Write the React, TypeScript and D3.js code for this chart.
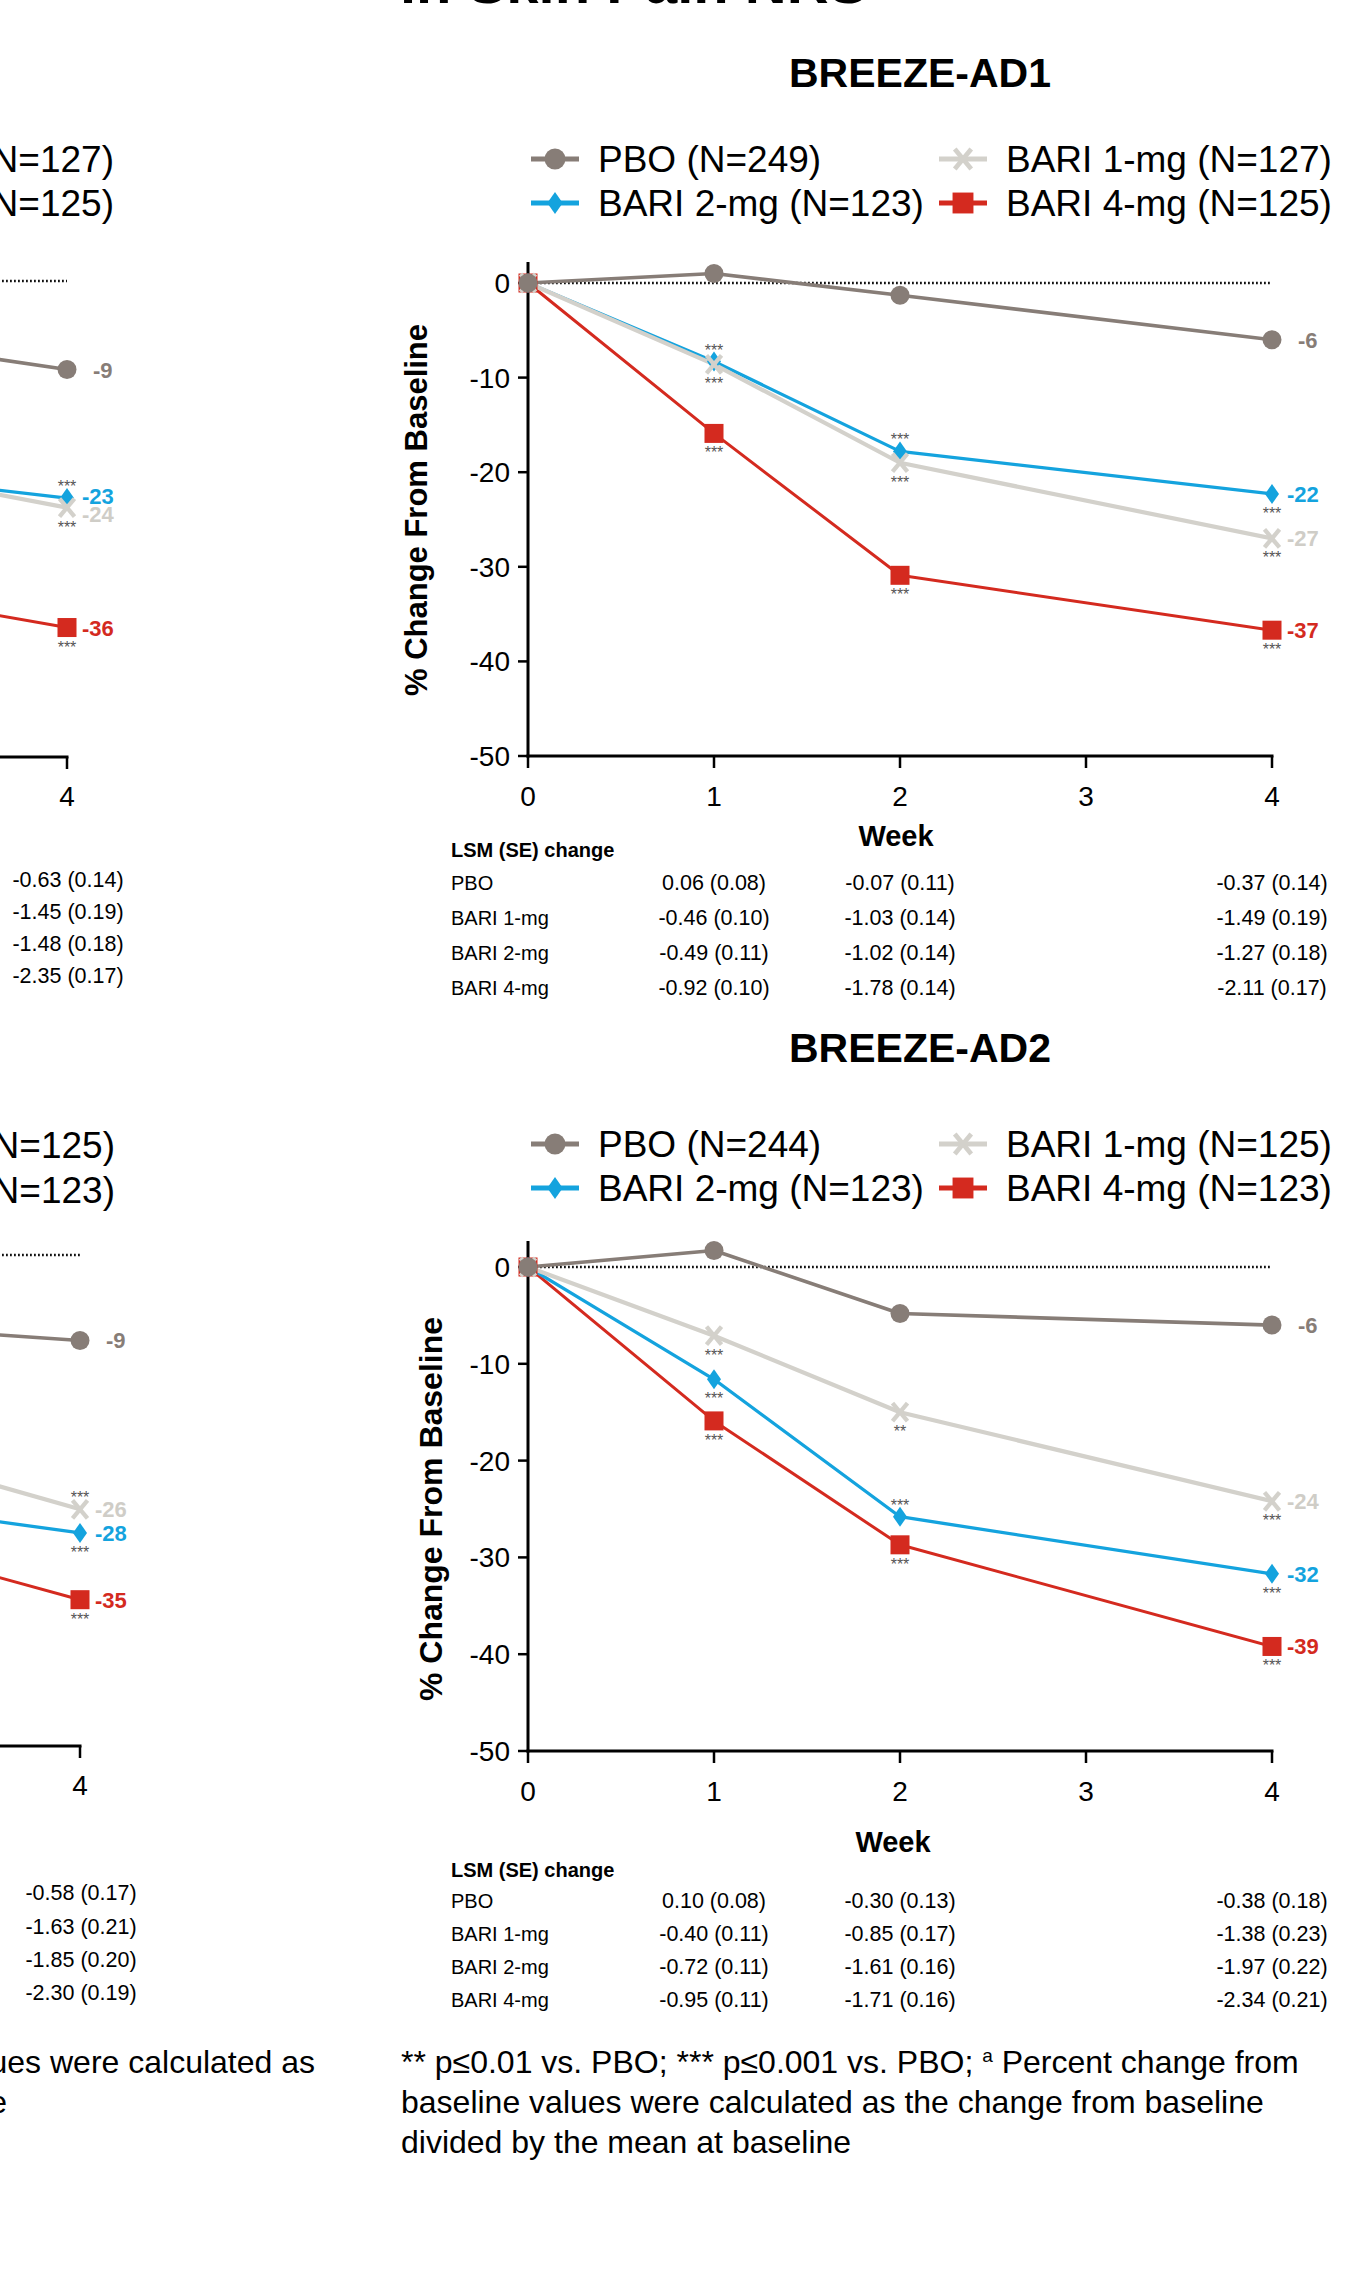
import React from "react";
import * as d3 from "d3";

// ---------- data ----------
const WEEKS = [0, 1, 2, 4];
const X_TICKS = [0, 1, 2, 3, 4];
const Y_TICKS = [0, -10, -20, -30, -40, -50];
const GROUPS = ["PBO", "BARI 1-mg", "BARI 2-mg", "BARI 4-mg"];

// BREEZE-AD1 (% change from baseline)
const AD1_N = [249, 127, 123, 125];
const AD1_PBO = [0, 1.0, -1.3, -6.0];
const AD1_BARI1 = [0, -8.6, -19.0, -27.0];
const AD1_BARI2 = [0, -8.3, -17.8, -22.3];
const AD1_BARI4 = [0, -15.9, -30.9, -36.7];
const AD1_END_LABELS = ["-6", "-27", "-22", "-37"];
const AD1_SIG_BARI1 = ["", "***", "***", "***"];
const AD1_SIG_BARI2 = ["", "***", "***", "***"];
const AD1_SIG_BARI4 = ["", "***", "***", "***"];
const AD1_TABLE_PBO = ["0.06 (0.08)", "-0.07 (0.11)", "-0.37 (0.14)"];
const AD1_TABLE_BARI1 = ["-0.46 (0.10)", "-1.03 (0.14)", "-1.49 (0.19)"];
const AD1_TABLE_BARI2 = ["-0.49 (0.11)", "-1.02 (0.14)", "-1.27 (0.18)"];
const AD1_TABLE_BARI4 = ["-0.92 (0.10)", "-1.78 (0.14)", "-2.11 (0.17)"];

// BREEZE-AD2
const AD2_N = [244, 125, 123, 123];
const AD2_PBO = [0, 1.7, -4.8, -6.0];
const AD2_BARI1 = [0, -7.1, -15.0, -24.2];
const AD2_BARI2 = [0, -11.6, -25.8, -31.7];
const AD2_BARI4 = [0, -15.9, -28.7, -39.2];
const AD2_END_LABELS = ["-6", "-24", "-32", "-39"];
const AD2_SIG_BARI1 = ["", "***", "**", "***"];
const AD2_SIG_BARI2 = ["", "***", "***", "***"];
const AD2_SIG_BARI4 = ["", "***", "***", "***"];
const AD2_TABLE_PBO = ["0.10 (0.08)", "-0.30 (0.13)", "-0.38 (0.18)"];
const AD2_TABLE_BARI1 = ["-0.40 (0.11)", "-0.85 (0.17)", "-1.38 (0.23)"];
const AD2_TABLE_BARI2 = ["-0.72 (0.11)", "-1.61 (0.16)", "-1.97 (0.22)"];
const AD2_TABLE_BARI4 = ["-0.95 (0.11)", "-1.71 (0.16)", "-2.34 (0.21)"];
const TABLE_WEEKS = [1, 2, 4];

// Left-hand panels (only their right edge is visible)
const LEFT_WEEKS = [2, 4];
const TL_N = [0, 127, 0, 125];
const TL_PBO = [-3.5, -9.3];
const TL_BARI1 = [-16.4, -23.8];
const TL_BARI2 = [-18.3, -22.8];
const TL_BARI4 = [-29.5, -36.4];
const TL_END_LABELS = ["-9", "-24", "-23", "-36"];
const TL_TABLE_WK4 = ["-0.63 (0.14)", "-1.45 (0.19)", "-1.48 (0.18)", "-2.35 (0.17)"];

const BL_N = [0, 125, 0, 123];
const BL_PBO = [-6.1, -8.7];
const BL_BARI1 = [-15.1, -25.9];
const BL_BARI2 = [-23.1, -28.3];
const BL_BARI4 = [-24.7, -35.1];
const BL_END_LABELS = ["-9", "-26", "-28", "-35"];
const BL_TABLE_WK4 = ["-0.58 (0.17)", "-1.63 (0.21)", "-1.85 (0.20)", "-2.30 (0.19)"];

// ---------- style ----------
const FONT = "'Liberation Sans', Arial, Helvetica, sans-serif";
const COLORS = ["#877d77", "#d3d1cb", "#14a3de", "#d42a1f"];
const SHAPES = ["circle", "x", "diamond", "square"];
const WIDTHS = [3.6, 4.2, 3.3, 3];
const LABEL_COLORS = ["#877d77", "#cfcdc7", "#14a3de", "#d42a1f"];
const STAR_COLOR = "#555555";

function Marker({ kind, x, y, color, s = 1 }: any) {
  if (kind === "circle") return <circle cx={x} cy={y} r={9.5 * s} fill={color} />;
  if (kind === "square")
    return <rect x={x - 9.5 * s} y={y - 9.5 * s} width={19 * s} height={19 * s} fill={color} />;
  if (kind === "diamond")
    return (
      <path
        d={`M${x},${y - 10 * s}L${x + 7 * s},${y}L${x},${y + 10 * s}L${x - 7 * s},${y}Z`}
        fill={color}
      />
    );
  return (
    <g stroke={color} strokeWidth={4.3 * s}>
      <line x1={x - 7.5 * s} y1={y - 9 * s} x2={x + 7.5 * s} y2={y + 9 * s} />
      <line x1={x + 7.5 * s} y1={y - 9 * s} x2={x - 7.5 * s} y2={y + 9 * s} />
    </g>
  );
}

type Ser = { idx: number; values: number[]; sig?: string[]; sigPos?: string[]; label: string; dy?: number };

function Plot({ cfg, weeks, series, axes }: any) {
  const x = d3.scaleLinear().domain([0, 4]).range([cfg.x0, cfg.x4]);
  const y = d3.scaleLinear().domain([0, -50]).range([cfg.y0, cfg.y50]);
  const drawOrder = [3, 2, 1, 0].map((i) => series.find((s: Ser) => s.idx === i)).filter(Boolean) as Ser[];
  return (
    <g fontFamily={FONT}>
      {/* zero reference */}
      <line
        x1={axes ? cfg.x0 : -10}
        x2={x(4)}
        y1={y(0)}
        y2={y(0)}
        stroke="#111"
        strokeWidth={2.6}
        strokeDasharray="1.8,2.2"
      />
      {/* axes */}
      {axes && (
        <g>
          <line x1={cfg.x0} x2={cfg.x0} y1={cfg.axisTop} y2={y(-50) + 1.5} stroke="#000" strokeWidth={3} />
          {Y_TICKS.map((t) => (
            <g key={t}>
              <line x1={cfg.x0 - 10} x2={cfg.x0} y1={y(t)} y2={y(t)} stroke="#000" strokeWidth={2.5} />
              <text x={cfg.x0 - 18} y={y(t) + 10} textAnchor="end" fontSize={28} fill="#000">
                {t}
              </text>
            </g>
          ))}
          <text
            transform={`translate(${cfg.ylabelX},${cfg.ylabelY}) rotate(-90)`}
            textAnchor="middle"
            fontSize={cfg.ylabelSize}
            fontWeight="bold"
            fill="#000"
          >
            % Change From Baseline
          </text>
          <text x={cfg.weekX} y={cfg.weekY} textAnchor="middle" fontSize={29} fontWeight="bold" fill="#000">
            Week
          </text>
        </g>
      )}
      <line x1={axes ? cfg.x0 - 1.5 : -10} x2={x(4) + 1.5} y1={y(-50)} y2={y(-50)} stroke="#000" strokeWidth={3} />
      {X_TICKS.map((t) => (
        <g key={t}>
          <line x1={x(t)} x2={x(t)} y1={y(-50)} y2={y(-50) + 12} stroke="#000" strokeWidth={2.5} />
          <text x={x(t)} y={cfg.xTickY} textAnchor="middle" fontSize={28} fill="#000">
            {t}
          </text>
        </g>
      ))}
      {/* lines */}
      {drawOrder.map((s) => {
        const line = d3
          .line<number>()
          .x((_, i) => x(weeks[i]))
          .y((d) => y(d));
        return (
          <path
            key={"l" + s.idx}
            d={line(s.values) || ""}
            fill="none"
            stroke={COLORS[s.idx]}
            strokeWidth={WIDTHS[s.idx]}
            strokeLinejoin="round"
          />
        );
      })}
      {/* markers */}
      {drawOrder.map((s) =>
        s.values.map((v, i) => (
          <Marker key={"m" + s.idx + "-" + i} kind={SHAPES[s.idx]} x={x(weeks[i])} y={y(v)} color={COLORS[s.idx]} />
        ))
      )}
      {/* significance stars */}
      {drawOrder.map((s) =>
        (s.sig || []).map((st, i) =>
          st ? (
            <text
              key={"s" + s.idx + "-" + i}
              x={x(weeks[i])}
              y={y(s.values[i]) + (s.sigPos && s.sigPos[i] === "a" ? -15 : 16) + 9}
              textAnchor="middle"
              fontSize={16}
              fill={STAR_COLOR}
            >
              {st}
            </text>
          ) : null
        )
      )}
      {/* end labels */}
      {drawOrder.map((s) => (
        <text
          key={"e" + s.idx}
          x={x(4) + (s.idx === 0 ? 26 : 15)}
          y={y(s.values[s.values.length - 1]) + 8 + (s.dy || 0)}
          fontSize={22}
          fontWeight="bold"
          fill={LABEL_COLORS[s.idx]}
        >
          {s.label}
        </text>
      ))}
    </g>
  );
}

function Legend({ n, rows, anchorEnd }: any) {
  const items = [
    { i: 0, mx: 555, tx: 598, row: 0 },
    { i: 1, mx: 963, tx: 1006, row: 0 },
    { i: 2, mx: 555, tx: 598, row: 1 },
    { i: 3, mx: 963, tx: 1006, row: 1 },
  ];
  if (anchorEnd !== undefined) {
    return (
      <g fontFamily={FONT} fontSize={37} fill="#000">
        <text x={anchorEnd} y={rows[0]} textAnchor="end">{`${GROUPS[1]} (N=${n[1]})`}</text>
        <text x={anchorEnd} y={rows[1]} textAnchor="end">{`${GROUPS[3]} (N=${n[3]})`}</text>
      </g>
    );
  }
  return (
    <g fontFamily={FONT}>
      {items.map((it) => {
        const yy = rows[it.row] - 13;
        return (
          <g key={it.i}>
            <line x1={it.mx - 24} x2={it.mx + 24} y1={yy} y2={yy} stroke={COLORS[it.i]} strokeWidth={5} />
            <Marker kind={SHAPES[it.i]} x={it.mx} y={yy} color={COLORS[it.i]} s={1.1} />
            <text x={it.tx} y={rows[it.row]} fontSize={37} fill="#000">{`${GROUPS[it.i]} (N=${n[it.i]})`}</text>
          </g>
        );
      })}
    </g>
  );
}

function Table({ rows, lsmY, values, weeksX }: any) {
  return (
    <g fontFamily={FONT} fill="#000">
      <text x={451} y={lsmY} fontSize={20} fontWeight="bold">
        LSM (SE) change
      </text>
      {GROUPS.map((g, r) => (
        <g key={g}>
          <text x={451} y={rows[r]} fontSize={20}>
            {g}
          </text>
          {values[r].map((v: string, c: number) => (
            <text key={c} x={weeksX(TABLE_WEEKS[c])} y={rows[r]} fontSize={21.5} textAnchor="middle">
              {v}
            </text>
          ))}
        </g>
      ))}
    </g>
  );
}

export default function App() {
  const ad1 = {
    x0: 528, x4: 1272, y0: 283, y50: 756, axisTop: 262, xTickY: 806, weekX: 896, weekY: 846,
    ylabelX: 427, ylabelY: 510, ylabelSize: 31,
  };
  const ad2 = {
    x0: 528, x4: 1272, y0: 1267, y50: 1751, axisTop: 1241, xTickY: 1801, weekX: 893, weekY: 1852,
    ylabelX: 442, ylabelY: 1509, ylabelSize: 32,
  };
  const tl = { x0: 67 - 744, x4: 67, y0: 281, y50: 757, xTickY: 806 };
  const bl = { x0: 80 - 744, x4: 80, y0: 1255, y50: 1746, xTickY: 1795 };
  const xr = d3.scaleLinear().domain([0, 4]).range([528, 1272]);

  const ad1Series: Ser[] = [
    { idx: 0, values: AD1_PBO, label: AD1_END_LABELS[0] },
    { idx: 1, values: AD1_BARI1, label: AD1_END_LABELS[1], sig: AD1_SIG_BARI1, sigPos: ["", "b", "b", "b"] },
    { idx: 2, values: AD1_BARI2, label: AD1_END_LABELS[2], sig: AD1_SIG_BARI2, sigPos: ["", "a", "a", "b"] },
    { idx: 3, values: AD1_BARI4, label: AD1_END_LABELS[3], sig: AD1_SIG_BARI4, sigPos: ["", "b", "b", "b"] },
  ];
  const ad2Series: Ser[] = [
    { idx: 0, values: AD2_PBO, label: AD2_END_LABELS[0] },
    { idx: 1, values: AD2_BARI1, label: AD2_END_LABELS[1], sig: AD2_SIG_BARI1, sigPos: ["", "b", "b", "b"] },
    { idx: 2, values: AD2_BARI2, label: AD2_END_LABELS[2], sig: AD2_SIG_BARI2, sigPos: ["", "b", "a", "b"] },
    { idx: 3, values: AD2_BARI4, label: AD2_END_LABELS[3], sig: AD2_SIG_BARI4, sigPos: ["", "b", "b", "b"] },
  ];
  const tlSeries: Ser[] = [
    { idx: 0, values: TL_PBO, label: TL_END_LABELS[0] },
    { idx: 1, values: TL_BARI1, label: TL_END_LABELS[1], sig: ["", "***"], sigPos: ["", "b"], dy: 6 },
    { idx: 2, values: TL_BARI2, label: TL_END_LABELS[2], sig: ["", "***"], sigPos: ["", "a"], dy: -2 },
    { idx: 3, values: TL_BARI4, label: TL_END_LABELS[3], sig: ["", "***"], sigPos: ["", "b"] },
  ];
  const blSeries: Ser[] = [
    { idx: 0, values: BL_PBO, label: BL_END_LABELS[0] },
    { idx: 1, values: BL_BARI1, label: BL_END_LABELS[1], sig: ["", "***"], sigPos: ["", "a"] },
    { idx: 2, values: BL_BARI2, label: BL_END_LABELS[2], sig: ["", "***"], sigPos: ["", "b"] },
    { idx: 3, values: BL_BARI4, label: BL_END_LABELS[3], sig: ["", "***"], sigPos: ["", "b"] },
  ];

  const tlRows = [887, 919, 951, 983];
  const blRows = [1900, 1934, 1967, 2000];

  return (
    <svg
      width={1354}
      height={2288}
      viewBox="0 0 1354 2288"
      style={{ position: "absolute", left: 0, top: 0, background: "#fff" }}
    >
      <rect x={0} y={0} width={1354} height={2288} fill="#fff" />
      {/* main title, mostly cut off at top */}
      <text x={400} y={3} fontFamily={FONT} fontSize={58} fontWeight="bold" fill="#000">
        in Skin Pain NRS
      </text>

      {/* ===== BREEZE-AD1 ===== */}
      <text x={920} y={87} textAnchor="middle" fontFamily={FONT} fontSize={41} fontWeight="bold" fill="#000">
        BREEZE-AD1
      </text>
      <Legend n={AD1_N} rows={[172, 216]} />
      <Plot cfg={ad1} weeks={WEEKS} series={ad1Series} axes />
      <Table
        rows={[890, 925, 960, 995]}
        lsmY={857}
        values={[AD1_TABLE_PBO, AD1_TABLE_BARI1, AD1_TABLE_BARI2, AD1_TABLE_BARI4]}
        weeksX={xr}
      />

      {/* left partial panel (top) */}
      <Legend n={TL_N} rows={[172, 216]} anchorEnd={114} />
      <Plot cfg={tl} weeks={LEFT_WEEKS} series={tlSeries} axes={false} />
      <g fontFamily={FONT} fontSize={21.5} fill="#000">
        {TL_TABLE_WK4.map((v, r) => (
          <text key={r} x={68} y={tlRows[r]} textAnchor="middle">
            {v}
          </text>
        ))}
      </g>

      {/* ===== BREEZE-AD2 ===== */}
      <text x={920} y={1062} textAnchor="middle" fontFamily={FONT} fontSize={41} fontWeight="bold" fill="#000">
        BREEZE-AD2
      </text>
      <Legend n={AD2_N} rows={[1157, 1201]} />
      <Plot cfg={ad2} weeks={WEEKS} series={ad2Series} axes />
      <Table
        rows={[1908, 1941, 1974, 2007]}
        lsmY={1877}
        values={[AD2_TABLE_PBO, AD2_TABLE_BARI1, AD2_TABLE_BARI2, AD2_TABLE_BARI4]}
        weeksX={xr}
      />

      {/* left partial panel (bottom) */}
      <Legend n={BL_N} rows={[1158, 1203]} anchorEnd={115} />
      <Plot cfg={bl} weeks={LEFT_WEEKS} series={blSeries} axes={false} />
      <g fontFamily={FONT} fontSize={21.5} fill="#000">
        {BL_TABLE_WK4.map((v, r) => (
          <text key={r} x={81} y={blRows[r]} textAnchor="middle">
            {v}
          </text>
        ))}
      </g>

      {/* footnotes */}
      <g fontFamily={FONT} fontSize={32} fill="#000">
        <text x={315} y={2073} textAnchor="end">
          <tspan fontSize={19} dy={-11}>a</tspan>
          <tspan dy={11}> Percent change from baseline values were calculated as</tspan>
        </text>
        <text x={7} y={2113} textAnchor="end">
          the change from baseline divided by the mean at baseline
        </text>
        <text x={401} y={2073}>
          ** p≤0.01 vs. PBO; *** p≤0.001 vs. PBO;{" "}
          <tspan fontSize={19} dy={-11}>a</tspan>
          <tspan dy={11}> Percent change from</tspan>
        </text>
        <text x={401} y={2113}>baseline values were calculated as the change from baseline</text>
        <text x={401} y={2153}>divided by the mean at baseline</text>
      </g>
    </svg>
  );
}
